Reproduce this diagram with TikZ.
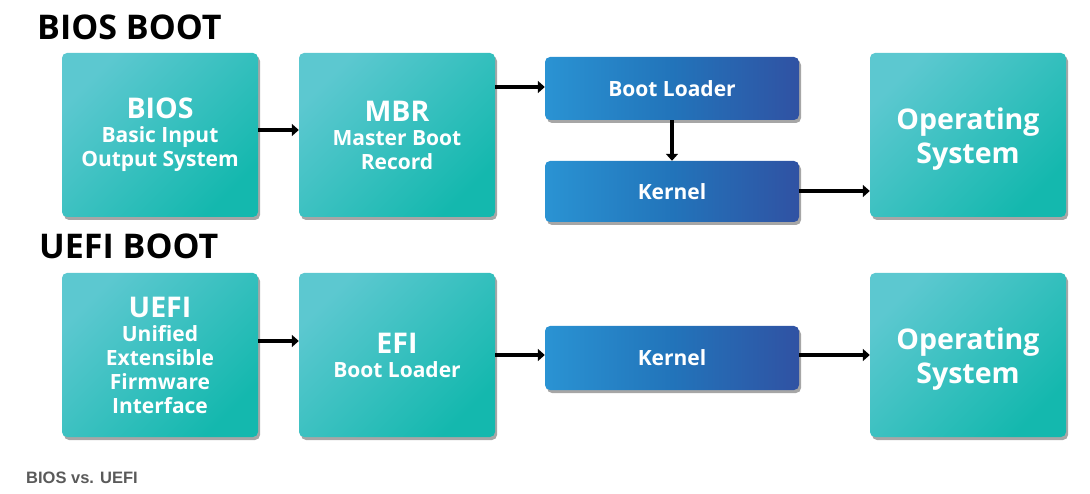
\documentclass[tikz,border=0pt]{standalone}
\usepackage{fontspec}
\setmainfont{Open Sans}
\newfontfamily\capfont{Liberation Sans}
\usetikzlibrary{arrows.meta,shadows}
\definecolor{tealL}{HTML}{5CC8D0}
\definecolor{tealD}{HTML}{14B8AE}
\definecolor{blueL}{HTML}{2A93D3}
\definecolor{blueM}{HTML}{2274BA}
\definecolor{blueD}{HTML}{3052A3}
\definecolor{capgray}{HTML}{5A5A5A}
\begin{document}
\begin{tikzpicture}[x=1pt,y=-1pt,
  shadowed/.style={drop shadow={shadow xshift=2pt,shadow yshift=-3pt,opacity=0.35,fill=black}},
  bigbox/.style={shadowed,rounded corners=5pt,minimum width=196pt,minimum height=164pt,inner sep=0pt,
    align=center,text=white,font=\bfseries\fontsize{21}{24}\selectfont,
    top color=tealL,bottom color=tealD,shading angle=45},
  bluebox/.style={shadowed,rounded corners=5pt,minimum width=254pt,inner sep=0pt,
    align=center,text=white,font=\bfseries\fontsize{21}{24}\selectfont,
    left color=blueL,right color=blueD,middle color=blueM},
  ostext/.style={font=\bfseries\fontsize{28.5}{34}\selectfont},
  heading/.style={anchor=base west,inner sep=0pt,font=\bfseries\fontsize{34}{34}\selectfont},
  arr/.style={line width=4pt,-{Triangle[length=7pt,width=12pt]}}
]
\useasboundingbox (0,0) rectangle (1090,494);
% titles
\node[heading] (t1) at (37,39.5) {BIOS BOOT};
\node[heading] (t2) at (39,259) {UEFI BOOT};
% row 1
\node[bigbox] (bios) at (160,135) {{\fontsize{28.5}{26}\selectfont BIOS}\\Basic Input\\Output System};
\node[bigbox] (mbr) at (397,135) {{\fontsize{28.5}{26}\selectfont MBR}\\Master Boot\\Record};
\node[bluebox,minimum height=63pt] (bl) at (672,88.5) {Boot Loader};
\node[bluebox,minimum height=61pt] (k1) at (672,191.5) {Kernel};
\node[bigbox,ostext] (os1) at (968,135) {\rule{0pt}{30pt}Operating\\System};
% row 2
\node[bigbox] (uefi) at (160,355) {{\fontsize{28.5}{26}\selectfont UEFI}\\Unified\\Extensible\\Firmware\\Interface};
\node[bigbox] (efi) at (397,355) {{\fontsize{28.5}{26}\selectfont EFI}\\Boot Loader};
\node[bluebox,minimum height=64pt] (k2) at (672,358) {Kernel};
\node[bigbox,ostext] (os2) at (968,355) {\rule{0pt}{30pt}Operating\\System};
% connectors
\coordinate (a1) at (258,130);
\draw[arr] (bios.east |- a1) -- (mbr.west |- a1);
\coordinate (a2) at (495,87);
\draw[arr] (mbr.east |- a2) -- (bl.west |- a2);
\draw[arr] (bl.south) -- (k1.north);
\coordinate (a3) at (799,191);
\draw[arr] (k1.east |- a3) -- (os1.west |- a3);
\coordinate (b1) at (258,341);
\draw[arr] (uefi.east |- b1) -- (efi.west |- b1);
\coordinate (b2) at (495,355);
\draw[arr] (efi.east |- b2) -- (k2.west |- b2);
\draw[arr] (k2.east |- b2) -- (os2.west |- b2);
% caption
\node[anchor=base west,inner sep=0pt,text=capgray,font=\capfont\bfseries\fontsize{16.5}{16.5}\selectfont] (cap) at (26,483) {BIOS vs. UEFI};
\end{tikzpicture}
\end{document}
